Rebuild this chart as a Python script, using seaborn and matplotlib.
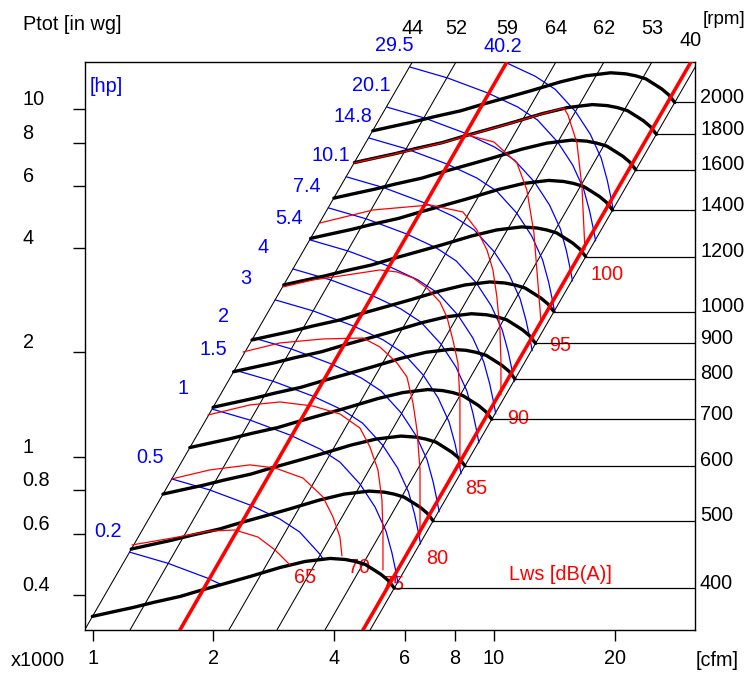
import numpy as np
import matplotlib
matplotlib.use("Agg")
import matplotlib.pyplot as plt
from matplotlib.patches import Polygon
import seaborn as sns

# ------------------------------------------------------------------ data
flow_limits = (0.957, 31.7)      # x1000 cfm
ptot_limits = (0.317, 13.68)     # in wg
flow_ticks = [1, 2, 4, 6, 8, 10, 20]
flow_tick_labels = ["1", "2", "4", "6", "8", "10", "20"]
ptot_ticks = [0.4, 0.6, 0.8, 1, 2, 4, 6, 8, 10]
ptot_tick_labels = ["0.4", "0.6", "0.8", "1", "2", "4", "6", "8", "10"]

# fan characteristic at 1000 rpm (other speeds follow the fan affinity laws)
fan_flow_1000 = [2.495, 2.766, 3.157, 3.540, 4.133, 4.636, 5.351, 6.176, 7.335,
                 8.467, 9.772, 10.65, 11.28, 11.95, 12.51, 13.09, 13.63, 14.11]
fan_ptot_1000 = [2.168, 2.226, 2.301, 2.378, 2.475, 2.575, 2.697, 2.826, 2.999,
                 3.121, 3.184, 3.162, 3.121, 3.059, 2.959, 2.862, 2.752, 2.615]
rpm_values = [400, 500, 600, 700, 800, 900, 1000, 1200, 1400, 1600, 1800, 2000]

# system (efficiency) lines: flow where they cross the bottom / top of the plot
sys_flow_bottom = [0.955, 1.239, 1.650, 2.186, 2.879, 3.793, 4.717, 4.913]
sys_flow_top = [6.26, 8.041, 10.77, 14.27, 18.80, 24.76, 30.97, 32.27]
eff_labels = ["44", "52", "59", "64", "62", "53", "40"]
limit_flow_bottom = [1.650, 4.717]
limit_flow_top = [10.77, 30.97]

# shaft power contours [hp]
hp_labels = ["0.2", "0.5", "1", "1.5", "2", "3", "4", "5.4", "7.4", "10.1",
             "14.8", "20.1", "29.5", "40.2"]
hp_start_flow = [1.235, 1.574, 1.984, 2.258, 2.512, 2.849, 3.156, 3.476, 3.865,
                 4.284, 4.873, 5.399, 6.165, 6.824]
hp2_flow = [2.512, 3.124, 3.930, 4.668, 5.234, 5.874, 6.400, 6.815, 7.054, 7.218, 7.302]
hp2_ptot = [2.198, 2.043, 1.850, 1.686, 1.546, 1.336, 1.148, 0.979, 0.846, 0.746, 0.694]

# sound power contours Lws [dB(A)]
lws65_flow = [1.253, 1.576, 1.960, 2.262, 2.582, 2.847, 3.102]
lws65_ptot = [0.557, 0.583, 0.611, 0.615, 0.587, 0.539, 0.488]
lws70_flow = [1.576, 1.960, 2.466, 2.847, 3.342, 3.749, 3.970, 4.133, 4.181]
lws70_ptot = [0.863, 0.916, 0.947, 0.928, 0.868, 0.766, 0.671, 0.587, 0.518]
lws75_flow = [1.938, 2.466, 2.929, 3.540, 4.133, 4.636, 4.910, 5.140, 5.259, 5.290, 5.290]
lws75_ptot = [1.318, 1.409, 1.437, 1.399, 1.327, 1.209, 1.066, 0.916, 0.751, 0.603, 0.472]
lws80_flow = [2.369, 2.929, 3.749, 4.717, 5.198, 5.733, 6.071, 6.284, 6.431, 6.543, 6.543]
lws80_ptot = [2.001, 2.125, 2.182, 2.196, 2.069, 1.861, 1.696, 1.427, 1.193, 0.916, 0.595]
lws85_flow = [2.980, 3.540, 4.302, 5.198, 5.733, 6.284, 6.808, 7.335, 7.636, 7.902,
              8.134, 8.228, 8.228, 8.228]
lws85_ptot = [3.080, 3.226, 3.334, 3.447, 3.402, 3.269, 3.059, 2.788, 2.524, 2.168,
              1.861, 1.456, 1.117, 0.934]
lws90_flow = [3.686, 4.995, 6.926, 8.371, 9.070, 9.607, 9.943, 10.17, 10.35, 10.41, 10.41]
lws90_ptot = [4.707, 5.130, 5.303, 5.063, 4.494, 3.936, 3.447, 2.883, 2.316, 1.898, 1.505]
lws95_flow = [8.565, 10.0, 11.41, 12.08, 12.58, 12.87, 13.09]
lws95_ptot = [8.433, 8.052, 7.004, 5.857, 4.405, 3.162, 2.475]
lws100_flow = [4.479, 5.667, 7.420, 9.607, 11.09, 13.17, 14.94, 15.29, 16.10, 16.57, 16.86]
lws100_ptot = [7.004, 7.435, 7.998, 8.716, 9.132, 9.694, 10.09, 9.630, 7.998, 5.975, 3.936]
lws_labels = ["65", "70", "75", "80", "85", "90", "95", "100"]

# ------------------------------------------------------------------ style
sns.set_theme(style="white")
plt.rcParams["font.family"] = ["Liberation Sans", "DejaVu Sans"]
plt.rcParams.update({"text.color": "black", "axes.edgecolor": "black",
                     "xtick.color": "black", "ytick.color": "black",
                     "axes.linewidth": 1.0})
FS = 14.3
PX = 72 / 100          # points per pixel
BLUE = "#0000ff"
RED = "#ff0000"

fig = plt.figure(figsize=(7.48, 6.75), dpi=100)
ax = fig.add_axes([85 / 748, 45 / 675, 610 / 748, 568 / 675])
ax.set_xscale("log")
ax.set_yscale("log")


def line(x, y, **kw):
    sns.lineplot(x=list(x), y=list(y), ax=ax, sort=False, estimator=None,
                 legend=False, **kw)
    return ax.lines[-1]


# system lines
for qb, qt in zip(sys_flow_bottom, sys_flow_top):
    line([qb, qt], [ptot_limits[0], ptot_limits[1]], color="black", lw=0.75, zorder=1)
for i, (lab, qt) in enumerate(zip(eff_labels, sys_flow_top)):
    dy = 22 if i == len(eff_labels) - 1 else 33
    ax.annotate(lab, xy=(qt, ptot_limits[1]), xytext=(0, dy * PX),
                textcoords="offset points", ha="center", va="center",
                fontsize=FS, annotation_clip=False)

# fan curves
fq = np.array(fan_flow_1000)
fp = np.array(fan_ptot_1000)
for rpm in rpm_values:
    r = rpm / 1000
    q, p = fq * r, fp * r ** 2
    line(q, p, color="black", lw=2.4, zorder=4)
    ax.hlines(p[-1], q[-1], flow_limits[1], color="black", lw=0.9, zorder=3)
    ax.annotate(str(rpm), xy=(1, p[-1]), xycoords=ax.get_yaxis_transform(),
                xytext=(5 * PX, 5 * PX), textcoords="offset points",
                ha="left", va="center", fontsize=FS, annotation_clip=False)

# region above the lowest speed curve (power contours end there)
rmin = rpm_values[0] / 1000
q_low, p_low = fq * rmin, fp * rmin ** 2
verts = ([(flow_limits[0] * 0.5, p_low[0])] + list(zip(q_low, p_low)) +
         [(flow_limits[1] * 2, p_low[-1]), (flow_limits[1] * 2, ptot_limits[1] * 3),
          (flow_limits[0] * 0.5, ptot_limits[1] * 3)])
clip_patch = Polygon(verts, closed=True, transform=ax.transData,
                     facecolor="none", edgecolor="none")


def top_crossing(q, p, ptop):
    lq, lp, lt = np.log10(q), np.log10(p), np.log10(ptop)
    for i in range(len(lp) - 1):
        if (lp[i] - lt) * (lp[i + 1] - lt) <= 0:
            t = (lt - lp[i]) / (lp[i + 1] - lp[i])
            return 10 ** (lq[i] + t * (lq[i + 1] - lq[i]))
    return q[0]


# power contours
h2q, h2p = np.array(hp2_flow), np.array(hp2_ptot)
for lab, q0 in zip(hp_labels, hp_start_flow):
    k = q0 / h2q[0]
    q, p = h2q * k, h2p * k ** 2
    ln = line(q, p, color=BLUE, lw=0.9, zorder=2)
    ln.set_clip_path(clip_patch)
    if p[0] <= ptot_limits[1]:
        ax.annotate(lab, xy=(q[0], p[0]), xytext=(-35 * PX, 21 * PX),
                    textcoords="offset points", ha="left", va="center",
                    fontsize=FS, color=BLUE, annotation_clip=False)
    else:
        qc = top_crossing(q, p, ptot_limits[1])
        ax.annotate(lab, xy=(qc, ptot_limits[1]), xytext=(-2 * PX, 15 * PX),
                    textcoords="offset points", ha="center", va="center",
                    fontsize=FS, color=BLUE, annotation_clip=False)

# sound contours
lws_lines = [(lws65_flow, lws65_ptot), (lws70_flow, lws70_ptot),
             (lws75_flow, lws75_ptot), (lws80_flow, lws80_ptot),
             (lws85_flow, lws85_ptot), (lws90_flow, lws90_ptot),
             (lws95_flow, lws95_ptot), (lws100_flow, lws100_ptot)]
label_offsets = [(15, 13), (17, 12), (10, 15), (17, 23), (16, 22), (17, 24),
                 (19, 26), (22, 25)]
for lab, (q, p), (dx, dy) in zip(lws_labels, lws_lines, label_offsets):
    line(q, p, color=RED, lw=0.9, zorder=5)
    ax.annotate(lab, xy=(q[-1], p[-1]), xytext=(dx * PX, -dy * PX),
                textcoords="offset points", ha="center", va="center",
                fontsize=FS, color=RED, zorder=1.5)

# recommended range limits
for qb, qt in zip(limit_flow_bottom, limit_flow_top):
    line([qb, qt], [ptot_limits[0], ptot_limits[1]], color=RED, lw=2.6, zorder=6)

# axes
ax.set_xlim(*flow_limits)
ax.set_ylim(*ptot_limits)
ax.set_xticks(flow_ticks, labels=flow_tick_labels, fontsize=FS)
ax.set_yticks(ptot_ticks, labels=ptot_tick_labels, ha="left", va="bottom", fontsize=FS)
ax.minorticks_off()
ax.tick_params(axis="x", direction="out", length=8, width=1, pad=5.5, bottom=True)
ax.tick_params(axis="y", direction="out", length=8.6, width=1, pad=36.4, left=True)
ax.set_xlabel("")
ax.set_ylabel("")

# unit texts
fig.text(22.7 / 748, 1 - 24 / 675, "Ptot [in wg]", ha="left", va="center", fontsize=FS)
fig.text(38 / 748, 1 - 660 / 675, "x1000", ha="center", va="center", fontsize=FS)
fig.text(717 / 748, 1 - 660 / 675, "[cfm]", ha="center", va="center", fontsize=FS)
fig.text(90 / 748, 1 - 86 / 675, "[hp]", ha="left", va="center", fontsize=FS, color=BLUE)
fig.text(724 / 748, 1 - 19 / 675, "[rpm]", ha="center", va="center", fontsize=13.5)
fig.text(560 / 748, 1 - 574 / 675, "Lws [dB(A)]", ha="center", va="center",
         fontsize=FS, color=RED)

fig.savefig("out.png", dpi=100)
